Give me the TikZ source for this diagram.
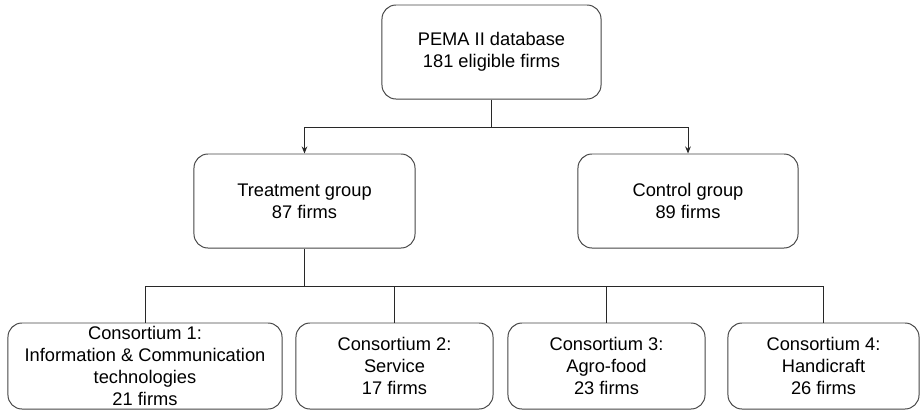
\documentclass[tikz,border=0pt]{standalone}
\usepackage{fontspec}
\setmainfont{Liberation Sans}
\usepackage{tikz}
\usetikzlibrary{arrows.meta, positioning, calc}
\definecolor{mydark}{RGB}{40,40,40}
\definecolor{myedge}{RGB}{70,70,70}
\tikzset{
  box/.style={rectangle, draw=myedge, fill=white, align=center,
    minimum width=5.5cm, minimum height=2.35cm, rounded corners=10pt,
    line width=0.7pt, inner sep=2pt},
  subbox/.style={box, minimum height=2.15cm},
  arrow/.style={-{Stealth[length=5pt, width=4pt]}, line width=0.7pt, color=mydark},
  line/.style={line width=0.7pt, color=mydark}
}

\begin{document}
\begin{tikzpicture}[x=0.025cm, y=-0.025cm,
  font=\fontsize{13}{15.6}\selectfont]
  \useasboundingbox (0,0) rectangle (920,410);

  % Database and the two groups
  \node[box, minimum width=5.475cm] (db) at (491.5, 52) {PEMA II database\\181 eligible firms};
  \node[box, minimum width=5.525cm] (treat) at (304.5, 201) {Treatment group\\87 firms};
  \node[box, minimum width=5.5cm] (ctrl) at (688, 201) {Control group\\89 firms};

  % Consortia
  \node[subbox, minimum width=6.85cm] (cons1) at (145, 366) {Consortium 1:\\Information \& Communication\\technologies\\21 firms};
  \node[subbox, minimum width=4.925cm] (cons2) at (394.5, 366) {Consortium 2:\\Service\\17 firms};
  \node[subbox, minimum width=4.925cm] (cons3) at (606.5, 366) {Consortium 3:\\Agro-food\\23 firms};
  \node[subbox, minimum width=4.775cm] (cons4) at (823.5, 366) {Consortium 4:\\Handicraft\\26 firms};

  % Split from database to the groups
  \coordinate (split) at (491.5, 127);
  \draw[line] (db.south) -- (split);
  \draw[arrow] (split) -| (treat.north);
  \draw[arrow] (split) -| (ctrl.north);

  % Treatment group to consortia
  \coordinate (bus) at (304.5, 286);
  \draw[line] (treat.south) -- (bus);
  \draw[line] (bus) -| (cons1.north);
  \draw[line] (bus) -| (cons2.north);
  \draw[line] (bus) -| (cons3.north);
  \draw[line] (bus) -| (cons4.north);
\end{tikzpicture}
\end{document}
